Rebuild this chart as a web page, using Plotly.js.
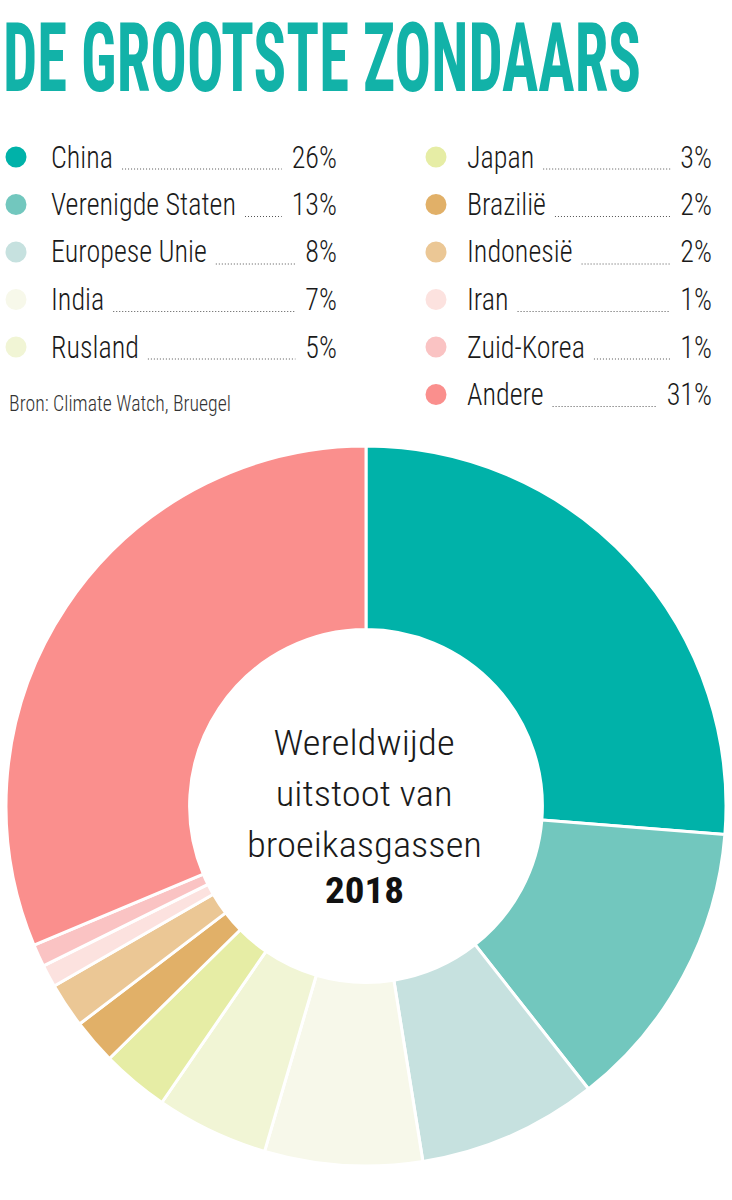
<!DOCTYPE html>
<html><head><meta charset="utf-8">
<script src="https://cdn.plot.ly/plotly-3.0.1.min.js"></script>
<style>html,body{margin:0;padding:0;background:#fff}</style>
</head><body><div id="chart" style="width:732px;height:1200px"></div>
<script>
const labels = ["China","Verenigde Staten","Europese Unie","India","Rusland","Japan","Brazilië","Indonesië","Iran","Zuid-Korea","Andere"];
const values = [26,13,8,7,5,3,2,2,1,1,31];
const colors = ["#00B2A9","#72C7BE","#C6E1DF","#F7F8EA","#F1F5D5","#E6EDA5","#E1B068","#EBC795","#FCE2DF","#FAC3C3","#FA8F8D"];
const title = "DE GROOTSTE ZONDAARS";
const centerLines = ["Wereldwijde","uitstoot van","broeikasgassen"];
const yearLabel = "2018";
const source = "Bron: Climate Watch, Bruegel";

const W = 732, H = 1200;
const FONT = '"Roboto Condensed","Liberation Sans Narrow","DejaVu Sans Condensed",Roboto,"Noto Sans",sans-serif';
const ctx = document.createElement('canvas').getContext('2d');
function measure(t, size, weight){ ctx.font = (weight||400)+' '+size+'px '+FONT; return ctx.measureText(t).width; }
const px = x => x / W;
const py = y => 1 - y / H;

const annotations = [];
const squeeze = [];
const shapes = [];
function addText(text, x, y, size, opts){
  opts = opts || {};
  const weight = opts.weight || 400;
  const anchor = opts.anchor || 'left';
  let sx = 1;
  if (opts.targetW) sx = opts.targetW / measure(text, size, weight);
  if (opts.sx) sx = opts.sx;
  annotations.push({
    text: text,
    x: px(x), y: py(y), xref:'paper', yref:'paper', xanchor: anchor, yanchor:'middle',
    showarrow:false, borderpad:0,
    font:{family: FONT, size: size, color: opts.color || '#1a1a1a', weight: weight}
  });
  squeeze.push({sx: sx, sy: opts.sy || 1, anchor: anchor, fitTop: !!opts.fitTop});
  return measure(text, size, weight) * sx;
}

// Title (natural width kept inside the page, then reshaped to the reference's tall narrow letters)
const tSize = Math.min(102, 726 / measure(title, 1, 700));
addText(title, 2, 51, tSize, {weight:700, color:'#12B2A8', targetW: 638, sy: 96 / tSize, fitTop: true});

// Legend
const labSize = 31, labW = 300;
const labSx = 185 / measure("Verenigde Staten", labSize, labW);
const cols = [
  {dotX:16, labX:50, pctR:338, idx:[0,1,2,3,4]},
  {dotX:436, labX:466, pctR:713, idx:[5,6,7,8,9,10]}
];
cols.forEach(c => {
  c.idx.forEach((k, r) => {
    const y = 157 + r * 47.5;
    shapes.push({type:'circle', xref:'paper', yref:'paper', xsizemode:'pixel', ysizemode:'pixel',
      xanchor: px(c.dotX), yanchor: py(y), x0:-10.5, x1:10.5, y0:-10.5, y1:10.5,
      fillcolor: colors[k], line:{width:0}});
    const lw = addText(labels[k], c.labX, y, labSize, {sx: labSx, weight: labW});
    const pct = values[k] + '%';
    const pw = addText(pct, c.pctR, y, labSize, {sx: labSx, anchor:'right', weight: labW});
    shapes.push({type:'line', xref:'paper', yref:'paper',
      x0: px(c.labX + lw + 10), x1: px(c.pctR - pw - 11), y0: py(y + 12), y1: py(y + 12),
      line:{color:'#555', width:1, dash:'1px,2px'}});
  });
});
addText(source, 8, 403, 22, {targetW: 222, color:'#333', weight:300});

// Center text
const cx = 364;
const cSize = 35, cW = 300;
const cSx = 235 / measure("broeikasgassen", cSize, cW);
centerLines.forEach((t, i) => addText(t, cx, 743 + i * 51, cSize, {sx: cSx, anchor:'center', weight: cW}));
addText(yearLabel, cx, 890, 37, {weight:700, targetW: 79, anchor:'center', color:'#111'});

const data = [{
  type:'pie', labels: labels, values: values, sort:false, direction:'clockwise', rotation:0,
  hole:0.49, textinfo:'none', hoverinfo:'none',
  marker:{colors: colors, line:{color:'#ffffff', width:3}},
  domain:{x:[px(6), px(726)], y:[py(1166), py(446)]}
}];
const layout = {
  width: W, height: H, margin:{l:0,r:0,t:0,b:0}, paper_bgcolor:'#fff', plot_bgcolor:'#fff',
  showlegend:false, annotations: annotations, shapes: shapes
};
Plotly.newPlot('chart', data, layout, {staticPlot:true, displayModeBar:false}).then(() => {
  const top0 = document.getElementById('chart').getBoundingClientRect().top;
  document.querySelectorAll('.annotation').forEach(g => {
    const i = +g.getAttribute('data-index');
    const s = squeeze[i];
    if (!s || (Math.abs(s.sx - 1) < 1e-3 && Math.abs(s.sy - 1) < 1e-3)) return;
    const t = g.querySelector('text.annotation-text');
    if (!t) return;
    const b = t.getBBox();
    const ox = s.anchor === 'left' ? b.x : s.anchor === 'right' ? b.x + b.width : b.x + b.width / 2;
    const oy = b.y + b.height / 2;
    const prev = t.getAttribute('transform') || '';
    const tf = 'translate(' + ox + ',' + oy + ') scale(' + s.sx + ',' + s.sy + ') translate(' + (-ox) + ',' + (-oy) + ') ' + prev;
    t.setAttribute('transform', tf);
    if (s.fitTop) {
      const dy = 1 - (t.getBoundingClientRect().top - top0);
      t.setAttribute('transform', 'translate(0,' + dy + ') ' + tf);
    }
  });
});
</script></body></html>
